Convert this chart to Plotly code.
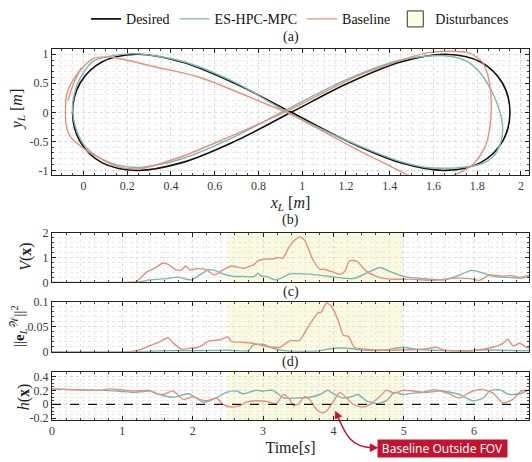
import plotly.graph_objects as go

# ---------------- data ----------------
# Panel (a): trajectories in the x_L / y_L plane
des_x = [1.95, 1.916, 1.816, 1.657, 1.45, 1.209, 0.95, 0.691, 0.45, 0.243, 0.084, -0.016,
         -0.05, -0.016, 0.084, 0.243, 0.45, 0.691, 0.95, 1.209, 1.45, 1.657, 1.816, 1.916, 1.95]
des_y = [0.0, 0.5, 0.866, 1.0, 0.866, 0.5, 0.0, -0.5, -0.866, -1.0, -0.866, -0.5,
         0.0, 0.5, 0.866, 1.0, 0.866, 0.5, 0.0, -0.5, -0.866, -1.0, -0.866, -0.5, 0.0]

es_x = [1.912, 1.889, 1.858, 1.813, 1.752, 1.675, 1.60, 1.45, 1.20, 0.92, 0.68, 0.45, 0.33,
        0.243, 0.152, 0.075, 0.015, -0.016, -0.039, -0.049, -0.049, -0.031, -0.001, 0.045,
        0.121, 0.228, 0.45, 0.69, 0.92, 1.20, 1.45, 1.569, 1.675, 1.767, 1.828, 1.873,
        1.904, 1.916, 1.912]
es_y = [-0.11, 0.172, 0.427, 0.68, 0.88, 0.965, 0.975, 0.90, 0.56, 0.03, -0.44, -0.80, -0.91,
        -0.95, -0.904, -0.79, -0.62, -0.45, -0.224, 0.0, 0.17, 0.455, 0.68, 0.88,
        0.965, 1.01, 0.88, 0.52, 0.03, -0.48, -0.85, -0.95, -0.96, -0.932, -0.875, -0.763,
        -0.564, -0.338, -0.11]

base_x = [1.864, 1.856, 1.826, 1.765, 1.66, 1.554, 1.25, 0.93, 0.65, 0.45, 0.258, 0.15, 0.07,
          0.0, -0.06, -0.08, -0.082, -0.078, -0.04, 0.042, 0.121, 0.33, 0.533, 0.853, 0.93,
          1.264, 1.40, 1.51, 1.60, 1.68, 1.78, 1.84, 1.864,
          None, -0.01, -0.045, -0.071]
base_y = [0.0, 0.51, 0.85, 1.02, 1.05, 1.01, 0.62, 0.02, -0.45, -0.76, -0.97, -0.93, -0.78,
          -0.62, -0.42, -0.2, 0.0, 0.29, 0.6, 0.92, 0.953, 0.78, 0.6, 0.115, 0.0,
          -0.666, -0.92, -1.12, -1.15, -1.1, -0.9, -0.56, 0.0,
          None, 0.77, 0.5, 0.2]

# Panel (b): V(x)
vb_t = [0, 1.06, 1.2, 1.345, 1.46, 1.58, 1.65, 1.77, 1.84, 1.9, 1.96, 2.05, 2.2, 2.31, 2.43,
        2.55, 2.72, 2.86, 2.93, 3.05, 3.14, 3.21, 3.28, 3.37, 3.45, 3.52, 3.59, 3.71, 3.81,
        3.87, 4.0, 4.09, 4.16, 4.23, 4.33, 4.47, 4.61, 4.8, 5.09, 5.37, 5.51, 5.75, 5.94,
        6.08, 6.22, 6.41, 6.53, 6.65, 6.78]
vb_v = [0, 0, 0.03, 0.41, 0.57, 0.78, 0.72, 0.5, 0.5, 0.66, 0.5, 0.55, 0.5, 0.3, 0.5,
        0.66, 0.57, 0.7, 0.87, 0.94, 0.94, 1.0, 0.97, 1.43, 1.7, 1.83, 1.7, 0.9, 0.53,
        0.53, 0.41, 0.32, 0.44, 0.87, 0.85, 0.44, 0.24, 0.13, 0.13, 0.08, 0.1, 0.17, 0.15,
        0.08, 0.3, 0.25, 0.27, 0.2, 0.28]
ve_t = [0, 1.2, 1.39, 1.63, 1.79, 1.9, 1.98, 2.08, 2.22, 2.29, 2.43, 2.58, 2.72, 2.81, 2.88,
        2.93, 2.98, 3.05, 3.17, 3.28, 3.38, 3.66, 3.85, 4.04, 4.28, 4.47, 4.66, 4.8, 4.99,
        5.27, 5.56, 5.75, 5.96, 6.13, 6.27, 6.49, 6.68, 6.78]
ve_v = [0, 0, 0.1, 0.15, 0.21, 0.13, 0.1, 0.26, 0.5, 0.5, 0.34, 0.24, 0.24, 0.22, 0.24,
        0.37, 0.24, 0.24, 0.1, 0.2, 0.34, 0.33, 0.27, 0.2, 0.15, 0.37, 0.6, 0.44, 0.24,
        0.15, 0.1, 0.24, 0.48, 0.37, 0.24, 0.2, 0.17, 0.24]

# Panel (c): ||e_L^W||^2
eb_t = [0, 1.1, 1.25, 1.39, 1.53, 1.65, 1.72, 1.84, 1.96, 2.08, 2.24, 2.39, 2.5, 2.55, 2.72,
        2.86, 3.0, 3.15, 3.24, 3.38, 3.52, 3.62, 3.71, 3.78, 3.83, 3.9, 3.97, 4.07, 4.14,
        4.21, 4.3, 4.47, 4.8, 5.08, 5.27, 5.46, 5.56, 5.75, 5.94, 6.13, 6.32, 6.41, 6.48,
        6.55, 6.65, 6.74, 6.78]
eb_v = [0, 0, 0.004, 0.012, 0.02, 0.028, 0.018, 0.005, 0.007, 0.009, 0.022, 0.024, 0.03,
        0.021, 0.019, 0.017, 0.012, 0.009, 0.009, 0.022, 0.023, 0.045, 0.065, 0.078, 0.08,
        0.098, 0.092, 0.062, 0.033, 0.031, 0.009, 0.005, 0.003, 0.004, 0.005, 0.009, 0.004,
        0.001, 0.001, 0.005, 0.011, 0.017, 0.025, 0.012, 0.017, 0.009, 0.007]
ee_t = [0, 1.2, 1.6, 2.0, 2.5, 2.79, 2.86, 3.0, 3.05, 3.19, 3.38, 3.75, 4.0, 4.18, 4.47, 4.7,
        4.99, 5.18, 5.42, 5.89, 6.13, 6.36, 6.65, 6.78]
ee_v = [0, 0, 0.002, 0.002, 0.003, 0.002, 0.014, 0.015, 0.012, 0.005, 0.001, 0.001, 0.007,
        0.007, 0.003, 0.003, 0.009, 0.005, 0.003, 0.002, 0.004, 0.003, 0.002, 0.002]

# Panel (d): h(x)
hb_t = [0, 0.68, 0.82, 1.16, 1.39, 1.49, 1.58, 1.72, 1.87, 1.94, 2.0, 2.1, 2.2, 2.34, 2.43,
        2.55, 2.67, 2.76, 2.9, 3.05, 3.19, 3.29, 3.38, 3.43, 3.5, 3.59, 3.66, 3.76, 3.83,
        3.9, 4.0, 4.09, 4.19, 4.28, 4.42, 4.52, 4.66, 4.75, 4.87, 4.99, 5.13, 5.32, 5.51,
        5.65, 5.79, 5.98, 6.13, 6.27, 6.41, 6.55, 6.67, 6.78]
hb_v = [0.22, 0.2, 0.22, 0.19, 0.2, 0.15, 0.14, 0.19, 0.067, 0.09, 0.11, 0.07, 0.05, 0.09, 0.0,
        -0.04, -0.02, 0.03, 0.05, 0.04, 0.01, 0.14, 0.07, -0.02, 0.0, 0.11, 0.07, -0.075, -0.12,
        -0.1, 0.04, 0.17, 0.09, 0.0, -0.04, 0.0, 0.11, 0.2, 0.16, 0.2, 0.19, 0.17, 0.19,
        0.15, 0.09, 0.19, 0.21, 0.16, 0.02, 0.07, 0.19, 0.2]
he_t = [0, 0.92, 1.16, 1.39, 1.53, 1.72, 1.94, 2.05, 2.15, 2.29, 2.48, 2.62, 2.72, 2.9, 3.0,
        3.14, 3.29, 3.48, 3.66, 3.81, 3.92, 4.0, 4.14, 4.26, 4.35, 4.47, 4.61, 4.75, 4.87,
        4.99, 5.13, 5.27, 5.42, 5.56, 5.79, 5.98, 6.13, 6.22, 6.36, 6.5, 6.65, 6.78]
he_v = [0.22, 0.19, 0.17, 0.19, 0.14, 0.1, 0.15, 0.09, 0.03, 0.07, 0.17, 0.19, 0.15, 0.2, 0.19,
        0.2, 0.09, 0.09, 0.1, 0.14, 0.2, 0.15, 0.09, 0.11, 0.14, 0.05, 0.01, 0.05, 0.17,
        0.14, 0.16, 0.17, 0.21, 0.19, 0.14, 0.05, 0.09, 0.19, 0.21, 0.14, 0.15, 0.21]

dist_start, dist_end = 2.5, 5.0
legend_names = ["Desired", "ES-HPC-MPC", "Baseline", "Disturbances"]
panel_titles = ["(a)", "(b)", "(c)", "(d)"]
y_titles = ["<i>y</i><sub><i>L</i></sub> [<i>m</i>]", "<i>V</i>(<b>x</b>)",
            "||<b>e</b><sub><i>L</i></sub><sup>𝒲</sup>||<sup>2</sup>", "<i>h</i>(<b>x</b>)"]
ya_ticks = [-1, -0.5, 0, 0.5, 1]
ya_text = ["-1", "-0.5", "0", "0.5", "1"]
yd_ticks = [-0.2, 0, 0.2, 0.4]
yd_text = ["-0.2", "0", "0.2", "0.4"]

# ---------------- styling ----------------
W, H = 532, 462
ML, MR, MT, MB = 52, 3, 45, 42
BLACK = "#111111"
TEAL = "#79b6b2"
SALMON = "#e4917d"
SHADE = "#fafadf"
RED = "#c4122f"
SERIF = "Liberation Serif, Times New Roman, serif"

def px2paper(px, py):
    return (px - ML) / (W - ML - MR), (H - MB - py) / (H - MT - MB)

fig = go.Figure()

lw = 1.4
# panel (a)
fig.add_trace(go.Scatter(x=des_x, y=des_y, mode="lines", line=dict(color=BLACK, width=1.6, shape="spline", smoothing=1.0),
                         name=legend_names[0], xaxis="x", yaxis="y"))
fig.add_trace(go.Scatter(x=es_x, y=es_y, mode="lines", line=dict(color=TEAL, width=lw, shape="spline", smoothing=0.9),
                         name=legend_names[1], xaxis="x", yaxis="y"))
fig.add_trace(go.Scatter(x=base_x, y=base_y, mode="lines", line=dict(color=SALMON, width=lw, shape="spline", smoothing=0.8),
                         name=legend_names[2], xaxis="x", yaxis="y", connectgaps=False))
fig.add_trace(go.Scatter(x=[None], y=[None], mode="markers", name=legend_names[3],
                         marker=dict(symbol="square", size=16, color="#fcfce3", line=dict(color="#333333", width=1)),
                         xaxis="x", yaxis="y"))

series = [
    (ve_t, ve_v, vb_t, vb_v, "x2", "y2"),
    (ee_t, ee_v, eb_t, eb_v, "x3", "y3"),
    (he_t, he_v, hb_t, hb_v, "x4", "y4"),
]
for et, ev, bt, bv, xa, ya in series:
    fig.add_trace(go.Scatter(x=et, y=ev, mode="lines", line=dict(color=TEAL, width=lw, shape="spline", smoothing=0.6),
                             showlegend=False, xaxis=xa, yaxis=ya))
    fig.add_trace(go.Scatter(x=bt, y=bv, mode="lines", line=dict(color=SALMON, width=lw, shape="spline", smoothing=0.6),
                             showlegend=False, xaxis=xa, yaxis=ya))

# shaded disturbance windows
for ax in ["x2", "x3", "x4"]:
    yname = "y" + ax[1:]
    fig.add_shape(type="rect", xref=ax, yref=yname + " domain", x0=dist_start, x1=dist_end, y0=0, y1=1,
                  fillcolor=SHADE, line=dict(width=0), layer="below")

# zero line in (d)
fig.add_shape(type="line", xref="x4 domain", yref="y4", x0=0, x1=1, y0=0, y1=0,
              line=dict(color=BLACK, width=1.3, dash="dash"))

def axis_common(**kw):
    d = dict(showline=True, linecolor="#222", linewidth=1, mirror="allticks", ticks="inside",
             ticklen=4, tickcolor="#222", showgrid=True, gridcolor="#d9d9d9", griddash="dot",
             gridwidth=1, zeroline=False,
             tickfont=dict(family=SERIF, size=12, color="#3a3a3a"))
    d.update(kw)
    return d

def minor(dt):
    return dict(dtick=dt, ticklen=2, tickcolor="#444", showgrid=True, gridcolor="#e8e8e8", griddash="dot", ticks="inside")

dom = {"a": [0.661, 1.0], "b": [0.371, 0.505], "c": [0.184, 0.318], "d": [0.0, 0.129]}

fig.update_layout(
    width=W, height=H, margin=dict(l=ML, r=MR, t=MT, b=MB),
    paper_bgcolor="white", plot_bgcolor="white",
    font=dict(family=SERIF, color="#222"),
    xaxis=axis_common(range=[-0.144, 2.037], dtick=0.2, tick0=0, minor=minor(0.05), anchor="y",
                      title=dict(text="<i>x</i><sub><i>L</i></sub> [<i>m</i>]", font=dict(size=16), standoff=4)),
    yaxis=axis_common(domain=dom["a"], range=[-1.075, 1.09], tickvals=ya_ticks, ticktext=ya_text,
                      minor=minor(0.1), anchor="x"),
    xaxis2=axis_common(range=[0, 6.78], dtick=1, minor=minor(0.2), anchor="y2", matches="x4", showticklabels=False),
    yaxis2=axis_common(domain=dom["b"], range=[0, 2], dtick=1, minor=minor(0.2), anchor="x2"),
    xaxis3=axis_common(range=[0, 6.78], dtick=1, minor=minor(0.2), anchor="y3", matches="x4", showticklabels=False),
    yaxis3=axis_common(domain=dom["c"], range=[0, 0.1], dtick=0.05, minor=minor(0.01), anchor="x3"),
    xaxis4=axis_common(range=[0, 6.78], dtick=1, minor=minor(0.2), anchor="y4",
                       title=dict(text="Time[<i>s</i>]", font=dict(size=16), standoff=4)),
    yaxis4=axis_common(domain=dom["d"], range=[-0.225, 0.46], tickvals=yd_ticks, ticktext=yd_text,
                       minor=minor(0.05), anchor="x4"),
    legend=dict(orientation="h", x=0.52, xanchor="center", y=1.08, yanchor="middle",
                font=dict(family=SERIF, size=14, color="#111"), bgcolor="rgba(0,0,0,0)",
                itemwidth=30, tracegroupgap=0),
    showlegend=True,
)

# panel titles
title_y = [1.032, 0.539, 0.344, 0.157]
for txt, yy in zip(panel_titles, title_y):
    fig.add_annotation(text=txt, xref="paper", yref="paper", x=0.5, y=yy, showarrow=False,
                       font=dict(family=SERIF, size=14, color="#222"), xanchor="center", yanchor="middle")

# y-axis titles (rotated), placed like the reference
ytitle_pos = [(17, 106), (26, 255), (19, 325), (24, 397)]
ytitle_size = [16, 16, 15, 16]
for txt, (px, py), fs in zip(y_titles, ytitle_pos, ytitle_size):
    xx, yy = px2paper(px, py)
    fig.add_annotation(text=txt, xref="paper", yref="paper", x=xx, y=yy, showarrow=False, textangle=-90,
                       font=dict(family=SERIF, size=fs, color="#222"), xanchor="center", yanchor="middle")

# "Baseline Outside FOV" callout
bx, by = px2paper(442.5, 448.5)
fig.add_annotation(text="Baseline Outside FOV", xref="paper", yref="paper", x=bx, y=by, showarrow=False,
                   font=dict(family="Noto Sans, Open Sans, sans-serif", size=12, color="white"),
                   bgcolor=RED, borderpad=2, width=125, height=13, xanchor="center", yanchor="middle")

def pth(points, close=False, curve=False):
    pts = [px2paper(*p) for p in points]
    if curve:
        s = "M %f,%f C %f,%f %f,%f %f,%f" % (pts[0] + pts[1] + pts[2] + pts[3])
    else:
        s = "M " + " L ".join("%f,%f" % p for p in pts)
    if close:
        s += " Z"
    return s

fig.add_shape(type="path", xref="paper", yref="paper",
              path=pth([(337.5, 416), (344, 430), (349, 448), (372, 448)], curve=True),
              line=dict(color=RED, width=1.5))
fig.add_shape(type="path", xref="paper", yref="paper",
              path=pth([(378, 448), (370, 444), (370, 452)], close=True),
              fillcolor=RED, line=dict(color=RED, width=0.5))
fig.add_shape(type="path", xref="paper", yref="paper",
              path=pth([(335.3, 411.2), (341.9, 416.2), (335.0, 419.0)], close=True),
              fillcolor=RED, line=dict(color=RED, width=0.5))

fig.write_html("out.html")
